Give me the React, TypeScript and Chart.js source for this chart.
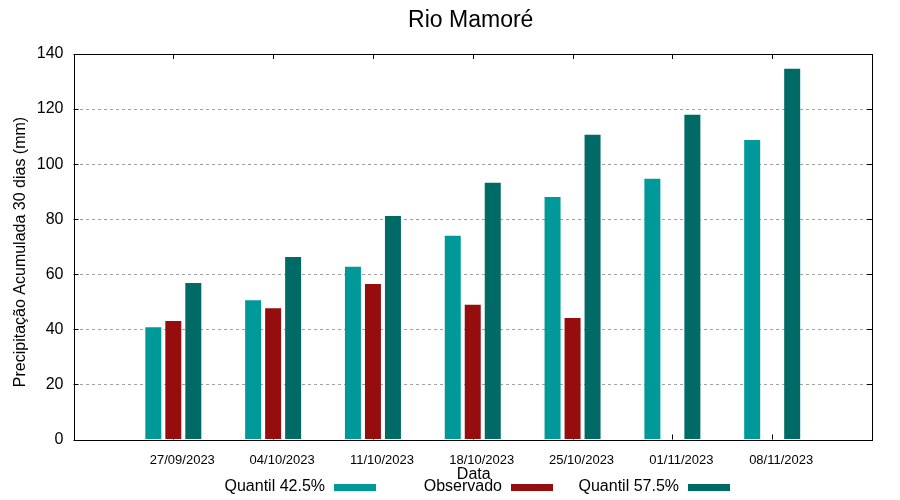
import React, { useEffect, useRef } from "react";
import { Chart, registerables } from "chart.js";

Chart.register(...registerables);

const chartTitle = "Rio Mamoré";
const xAxisTitle = "Data";
const yAxisTitle = "Precipitação Acumulada 30 dias (mm)";
const categories = [
  "27/09/2023",
  "04/10/2023",
  "11/10/2023",
  "18/10/2023",
  "25/10/2023",
  "01/11/2023",
  "08/11/2023",
];
const seriesNames = ["Quantil 42.5%", "Observado", "Quantil 57.5%"];
const quantil425 = [40.8, 50.6, 62.7, 74.0, 88.1, 94.7, 108.8];
const observado = [43.0, 47.7, 56.5, 48.9, 44.1, null, null];
const quantil575 = [56.8, 66.3, 81.2, 93.2, 110.7, 117.9, 134.6];
const seriesColors = ["#009999", "#960d0d", "#006a66"];
const yMin = 0;
const yMax = 140;
const yStep = 20;

const FONT = "'Liberation Sans', Arial, sans-serif";

const pad = (arr: (number | null)[]) => [null, ...arr, null];

const decorPlugin = {
  id: "gnuplotDecor",
  beforeDatasetsDraw(chart: any) {
    const { ctx, chartArea } = chart;
    const { left, right, top, bottom } = chartArea;
    const xs = chart.scales.x;
    const ys = chart.scales.y;
    ctx.save();
    ctx.strokeStyle = "#000";
    ctx.lineWidth = 1;
    ctx.beginPath();
    for (let v = yMin; v <= yMax; v += yStep) {
      const py = Math.round(ys.getPixelForValue(v)) + 0.5;
      ctx.moveTo(left, py);
      ctx.lineTo(left + 5, py);
      ctx.moveTo(right, py);
      ctx.lineTo(right - 5, py);
    }
    for (let i = 1; i <= categories.length; i++) {
      const px = Math.round(xs.getPixelForValue(i)) + 0.5;
      ctx.moveTo(px, top);
      ctx.lineTo(px, top + 5);
      ctx.moveTo(px, bottom);
      ctx.lineTo(px, bottom - 5);
    }
    ctx.stroke();
    ctx.restore();
  },
  afterDatasetsDraw(chart: any) {
    const { ctx, chartArea } = chart;
    const { left, right, top, bottom } = chartArea;
    ctx.save();
    ctx.strokeStyle = "#000";
    ctx.lineWidth = 1;
    ctx.strokeRect(
      Math.round(left) + 0.5,
      Math.round(top) + 0.5,
      Math.round(right) - Math.round(left),
      Math.round(bottom) - Math.round(top)
    );
    ctx.restore();
  },
  afterDraw(chart: any) {
    const { ctx, chartArea } = chart;
    const cx = (chartArea.left + chartArea.right) / 2;
    ctx.save();
    ctx.fillStyle = "#000";
    // Title
    ctx.font = `23px ${FONT}`;
    ctx.textAlign = "center";
    ctx.textBaseline = "alphabetic";
    ctx.fillText(chartTitle, cx - 2, 27);
    // X title
    ctx.font = `16px ${FONT}`;
    ctx.fillText(xAxisTitle, cx + 1, 479);
    // Y title
    ctx.save();
    ctx.translate(21, 252);
    ctx.rotate(-Math.PI / 2);
    ctx.textBaseline = "middle";
    ctx.fillText(yAxisTitle, 0, 0);
    ctx.restore();
    // Legend
    const rights = [325, 502, 679];
    chart.data.datasets.forEach((ds: any, i: number) => {
      const r = rights[i];
      ctx.font = `16px ${FONT}`;
      ctx.textAlign = "right";
      ctx.textBaseline = "alphabetic";
      ctx.fillStyle = "#000";
      ctx.fillText(ds.label, r, 491);
      ctx.fillStyle = ds.backgroundColor;
      ctx.fillRect(r + 9, 484, 42, 7);
    });
    ctx.restore();
  },
};

export default function App() {
  const canvasRef = useRef<HTMLCanvasElement | null>(null);

  useEffect(() => {
    document.body.style.margin = "0";
    const canvas = canvasRef.current;
    if (!canvas) return;
    const labels = ["", ...categories, ""];
    const chart = new Chart(canvas, {
      type: "bar",
      data: {
        labels,
        datasets: [
          { label: seriesNames[0], data: pad(quantil425), backgroundColor: seriesColors[0] },
          { label: seriesNames[1], data: pad(observado), backgroundColor: seriesColors[1] },
          { label: seriesNames[2], data: pad(quantil575), backgroundColor: seriesColors[2] },
        ],
      },
      options: {
        responsive: false,
        animation: false,
        events: [],
        layout: { padding: { top: 54, right: 28, left: 0, bottom: 0 } },
        datasets: {
          bar: {
            categoryPercentage: 0.601,
            barPercentage: 0.8,
            borderWidth: 0,
          },
        },
        plugins: {
          legend: { display: false },
          title: { display: false },
          tooltip: { enabled: false },
        },
        scales: {
          x: {
            type: "category",
            offset: false,
            grid: { display: false, drawTicks: false },
            border: { display: false },
            ticks: {
              autoSkip: false,
              maxRotation: 0,
              minRotation: 0,
              padding: 13,
              labelOffset: 9,
              color: "#000",
              font: { family: FONT, size: 13 },
            },
            afterFit: (scale: any) => {
              scale.height = 60.5;
            },
          },
          y: {
            min: yMin,
            max: yMax,
            grid: {
              drawTicks: false,
              color: (c: any) =>
                c.tick && (c.tick.value === yMin || c.tick.value === yMax)
                  ? "rgba(0,0,0,0)"
                  : "#a0a0a0",
              lineWidth: 1,
            },
            border: { display: false, dash: [3, 3] },
            ticks: {
              stepSize: yStep,
              padding: 10,
              color: "#000",
              font: { family: FONT, size: 16 },
            },
            afterFit: (scale: any) => {
              scale.width = 73.5;
            },
          },
        },
      },
      plugins: [decorPlugin],
    });
    return () => chart.destroy();
  }, []);

  return (
    <div style={{ width: 900, height: 500, background: "#fff" }}>
      <canvas ref={canvasRef} width={900} height={500} />
    </div>
  );
}
